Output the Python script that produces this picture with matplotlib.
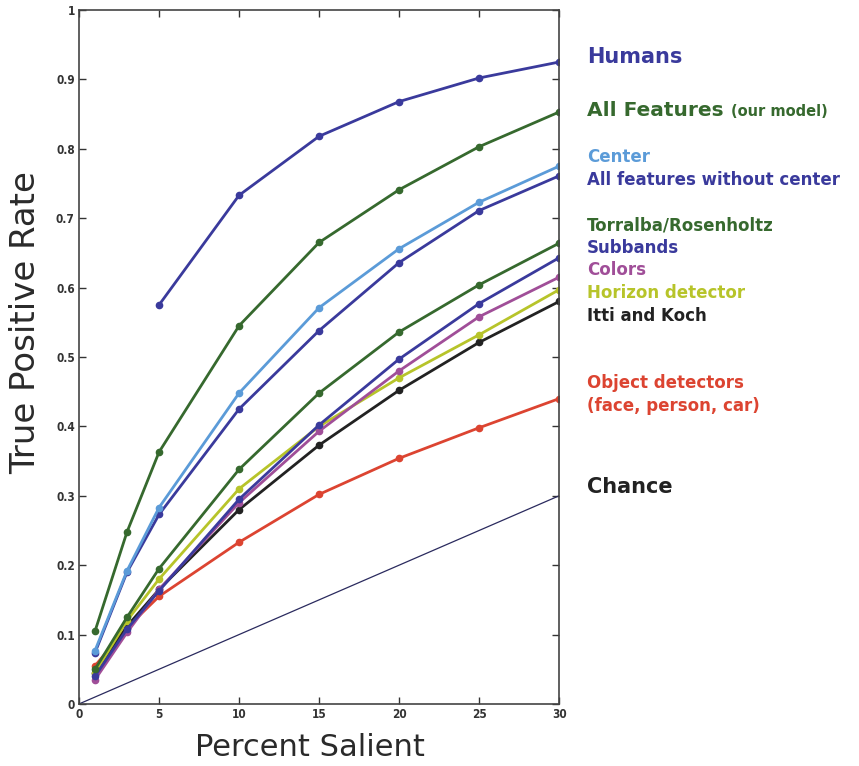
import matplotlib.pyplot as plt

# percent of image labelled salient
x = [1, 3, 5, 10, 15, 20, 25, 30]
x_humans = [5, 10, 15, 20, 25, 30]

humans = [0.575, 0.733, 0.818, 0.868, 0.902, 0.925]
all_features = [0.105, 0.248, 0.363, 0.545, 0.665, 0.741, 0.803, 0.853]
center = [0.077, 0.192, 0.283, 0.448, 0.571, 0.656, 0.723, 0.775]
no_center = [0.074, 0.190, 0.273, 0.425, 0.538, 0.636, 0.711, 0.761]
torralba = [0.050, 0.125, 0.195, 0.338, 0.448, 0.536, 0.604, 0.664]
subbands = [0.040, 0.108, 0.163, 0.295, 0.402, 0.497, 0.577, 0.643]
colors = [0.035, 0.103, 0.165, 0.290, 0.393, 0.480, 0.558, 0.615]
horizon = [0.045, 0.120, 0.180, 0.310, 0.400, 0.470, 0.532, 0.597]
itti = [0.045, 0.112, 0.165, 0.280, 0.373, 0.452, 0.521, 0.580]
objects = [0.055, 0.110, 0.155, 0.233, 0.302, 0.354, 0.398, 0.440]
chance_x = [0, 30]
chance = [0.0, 0.3]

c_blue = "#3a3a9c"
c_green = "#36692e"
c_light = "#5b9bd8"
c_purple = "#a04e98"
c_yellow = "#b7c42a"
c_black = "#222222"
c_red = "#dc4431"

textfont = "DejaVu Sans"

fig = plt.figure(figsize=(8.59, 7.66), dpi=100)
ax = fig.add_axes([0.092, 0.081, 0.559, 0.906])

lw = 2.0
ms = 4.5
ax.plot(chance_x, chance, color="#2a2a5e", lw=0.9)
ax.plot(x, objects, "o-", color=c_red, lw=lw, ms=ms)
ax.plot(x, itti, "o-", color=c_black, lw=lw, ms=ms)
ax.plot(x, horizon, "o-", color=c_yellow, lw=lw, ms=ms)
ax.plot(x, colors, "o-", color=c_purple, lw=lw, ms=ms)
ax.plot(x, subbands, "o-", color=c_blue, lw=lw, ms=ms)
ax.plot(x, torralba, "o-", color=c_green, lw=lw, ms=ms)
ax.plot(x, no_center, "o-", color=c_blue, lw=lw, ms=ms)
ax.plot(x, center, "o-", color=c_light, lw=lw, ms=ms)
ax.plot(x, all_features, "o-", color=c_green, lw=lw, ms=ms)
ax.plot(x_humans, humans, "o-", color=c_blue, lw=lw, ms=ms)

ax.set_xlim(0, 30)
ax.set_ylim(0, 1)
ax.set_xticks([0, 5, 10, 15, 20, 25, 30])
ax.set_yticks([0, 0.1, 0.2, 0.3, 0.4, 0.5, 0.6, 0.7, 0.8, 0.9, 1])
ax.set_yticklabels(["0", "0.1", "0.2", "0.3", "0.4", "0.5", "0.6", "0.7", "0.8", "0.9", "1"])
ax.tick_params(direction="in", top=True, right=True, length=5, width=1,
               labelsize=8.5, labelcolor="#333333", color="#333333", pad=3)
for lab in ax.get_xticklabels() + ax.get_yticklabels():
    lab.set_fontstretch("condensed")
    lab.set_weight("bold")
for s in ax.spines.values():
    s.set_color("#444444")
    s.set_linewidth(1.2)

ax.set_xlabel("Percent Salient", family=textfont, fontsize=22, color="#2a2a2a")
ax.set_ylabel("True Positive Rate", family=textfont, fontsize=24.5, color="#2a2a2a")
ax.xaxis.set_label_coords(0.48, -0.042)
ax.yaxis.set_label_coords(-0.076, 0.55)

# labels to the right of the plot
def label(y, s, c, size=12):
    fig.text(587 / 859, 1 - y / 766, s, color=c, fontsize=size, weight="bold",
             family=textfont, va="center", ha="left")

label(57, "Humans", c_blue, 15)
label(110, "All Features", c_green, 14.5)
fig.text(731 / 859, 1 - 112 / 766, "(our model)", color=c_green, fontsize=10.5,
         weight="bold", family=textfont, va="center")
label(157, "Center", c_light)
label(180, "All features without center", c_blue)
label(226, "Torralba/Rosenholtz", c_green)
label(248, "Subbands", c_blue)
label(270, "Colors", c_purple)
label(293, "Horizon detector", c_yellow)
label(316, "Itti and Koch", c_black)
label(383, "Object detectors", c_red)
label(406, "(face, person, car)", c_red)
label(487, "Chance", c_black, 15)

fig.savefig("out.png", dpi=100)
